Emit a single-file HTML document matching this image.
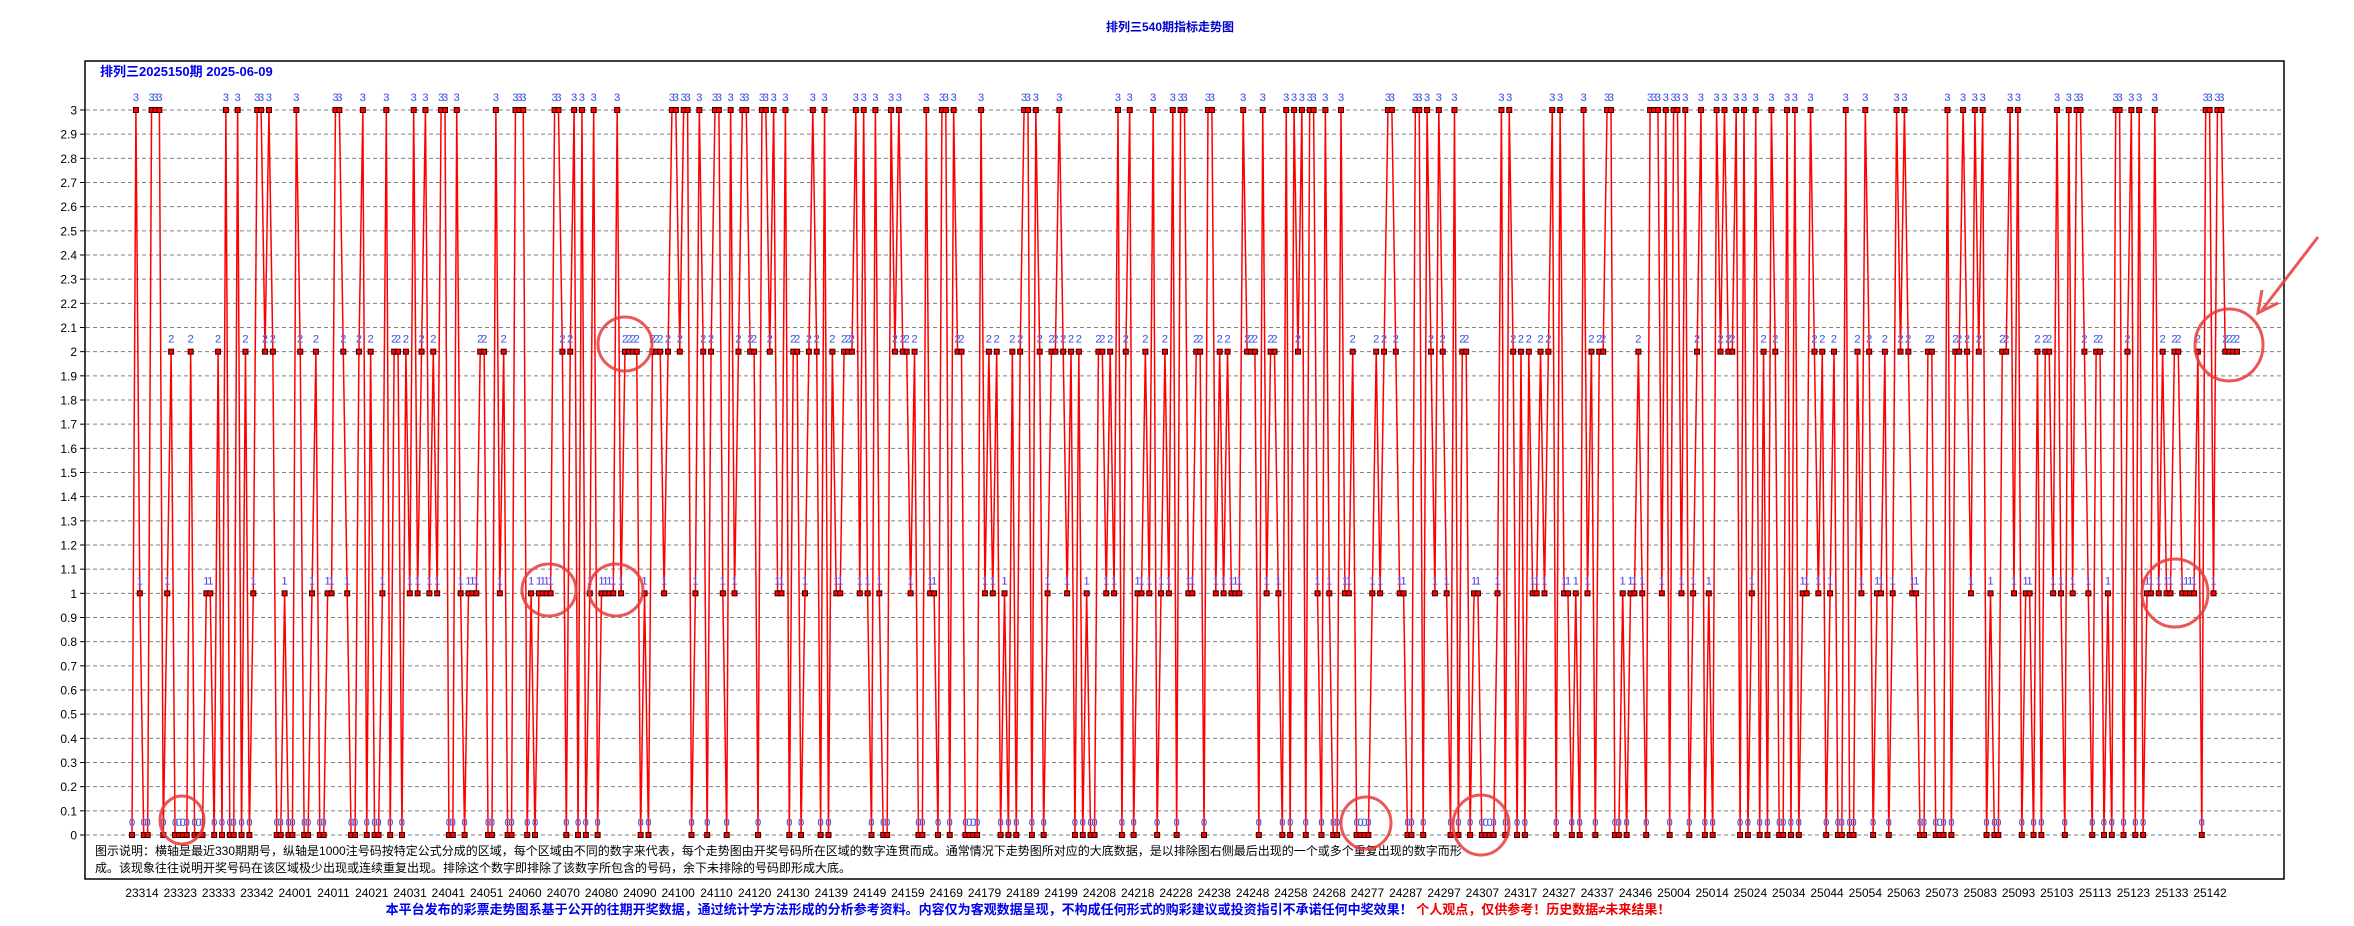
<!DOCTYPE html>
<html><head><meta charset="utf-8">
<style>
html,body{margin:0;padding:0;background:#fff;}
body{width:2354px;height:926px;overflow:hidden;position:relative;font-family:"Liberation Sans","Noto Sans CJK SC",sans-serif;}
svg{position:absolute;left:0;top:0;}
</style></head>
<body>
<svg id="chart" width="2354" height="926" viewBox="0 0 2354 926">
  <text x="1170" y="31" text-anchor="middle" font-size="12" font-weight="bold" fill="#0000cc" font-family="Liberation Sans, Noto Sans CJK SC, sans-serif">排列三540期指标走势图</text>
  <rect x="85" y="61" width="2199" height="818" fill="none" stroke="#000" stroke-width="1.5"/>
  <g id="grid"></g>
  <g id="ylabels"></g>
  <g id="series"></g>
  <g id="xlabels"></g>
  <text x="100" y="76" font-size="13" font-weight="bold" fill="#0000ee" font-family="Liberation Sans, Noto Sans CJK SC, sans-serif">排列三2025150期  2025-06-09</text>
  <g font-size="12" fill="#000" font-family="Liberation Sans, Noto Sans CJK SC, sans-serif">
    <text x="95" y="855">图示说明：横轴是最近330期期号，纵轴是1000注号码按特定公式分成的区域，每个区域由不同的数字来代表，每个走势图由开奖号码所在区域的数字连贯而成。通常情况下走势图所对应的大底数据，是以排除图右侧最后出现的一个或多个重复出现的数字而形</text>
    <text x="95" y="872">成。该现象往往说明开奖号码在该区域极少出现或连续重复出现。排除这个数字即排除了该数字所包含的号码，余下未排除的号码即形成大底。</text>
  </g>
  <text x="1028" y="914" text-anchor="middle" font-size="13" font-weight="bold" font-family="Liberation Sans, Noto Sans CJK SC, sans-serif"><tspan fill="#0000ee">本平台发布的彩票走势图系基于公开的往期开奖数据，通过统计学方法形成的分析参考资料。内容仅为客观数据呈现，不构成任何形式的购彩建议或投资指引不承诺任何中奖效果！</tspan><tspan fill="#ee0000"> 个人观点，仅供参考！历史数据≠未来结果！</tspan></text>
  <g fill="none" stroke="#e83a3a" stroke-width="3" opacity="0.85">
    <ellipse cx="182" cy="820" rx="22" ry="24"/>
    <ellipse cx="549" cy="590" rx="27" ry="26"/>
    <ellipse cx="625" cy="344" rx="27" ry="27"/>
    <ellipse cx="616" cy="590" rx="27" ry="26"/>
    <ellipse cx="1366" cy="823" rx="25" ry="26"/>
    <ellipse cx="1481" cy="825" rx="28" ry="30"/>
    <ellipse cx="2175" cy="593" rx="33" ry="34"/>
    <ellipse cx="2229" cy="345" rx="34" ry="36"/>
    <line x1="2318" y1="237" x2="2262" y2="310"/>
    <polyline points="2262,290 2258,313 2278,303"/>
  </g>
</svg>
<script>
const values = [0,3,1,0,0,3,3,3,0,1, 2,0,0,0,0,2,0,0,0,1, 1,0,2,0,3,0,0,3,0,2, 0,1,3,3,2,3,2,0,0,1, 0,0,3,2,0,0,1,2,0,0, 1,1,3,3,2,1,0,0,2,3, 0,2,0,0,1,3,0,2,2,0,
2,1,3,1,2,3,1,2,1,3, 3,0,0,3,1,0,1,1,1,2, 2,0,0,3,1,2,0,0,3,3, 3,0,1,0,1,1,1,1,3,3, 2,0,2,3,0,3,0,1,3,0, 1,1,1,1,3,1,2,2,2,2, 0,1,0,2,2,2,1,2,3,3, 2,3,3,0,1,3,2,0,
2,3,3,1,0,3,1,2,3,3, 2,2,0,3,3,2,3,1,1,3, 0,2,2,0,1,2,3,2,0,3, 0,2,1,1,2,2,2,3,1,3, 1,0,3,1,0,0,3,2,3,2, 2,1,2,0,0,3,1,1,0,3, 3,0,3,2,2,0,0,0,0,3, 1,2,1,2,0,1,0,2,0,2,
3,3,0,3,2,0,1,2,2,3, 2,1,2,0,2,0,1,0,0,2, 2,1,2,1,3,0,2,3,0,1, 1,2,1,3,0,1,2,1,3,0, 3,3,1,1,2,2,0,3,3,1, 2,1,2,1,1,1,3,2,2,2, 0,3,1,2,2,1,0,3,0,3, 2,3,0,3,3,1,0,3,1,
0,0,3,1,1,2,0,0,0,0, 1,2,1,2,3,3,2,1,1,0, 0,3,3,0,3,2,1,3,2,1, 0,3,0,2,2,0,1,1,0,0, 0,0,1,3,0,3,2,0,2,0, 2,1,1,2,1,2,3,0,3,1, 1,0,1,0,3,1,2,0,2,2, 3,3,0,0,1,0,1,1,2,
1,0,3,3,3,1,3,0,3,3, 1,3,0,1,2,3,0,1,0,3, 2,3,2,2,3,0,3,0,1,3, 0,2,0,3,2,0,0,3,0,3, 0,1,1,3,2,1,2,0,1,2, 0,0,3,0,0,2,1,3,2,0, 1,1,2,0,1,3,2,3,2,1, 1,0,0,2,2,0,0,0,3,
0,2,2,3,2,1,3,2,3,0, 1,0,0,2,2,3,1,3,0,1, 1,0,2,0,2,2,1,3,1,0, 3,1,3,3,2,1,0,2,2,0, 1,0,3,3,0,2,3,0,3,0, 1,1,3,1,2,1,1,2,2,1, 1,1,1,2,0,3,3,1,3,3, 2,2,2,2];
const yTicks = ["0","0.1","0.2","0.3","0.4","0.5","0.6","0.7","0.8","0.9","1","1.1","1.2","1.3","1.4","1.5","1.6","1.7","1.8","1.9","2","2.1","2.2","2.3","2.4","2.5","2.6","2.7","2.8","2.9","3"];
const xTickLabels = ["23314","23323","23333","23342","24001","24011","24021","24031","24041","24051","24060","24070","24080","24090","24100","24110","24120","24130","24139","24149","24159","24169","24179","24189","24199","24208","24218","24228","24238","24248","24258","24268","24277","24287","24297","24307","24317","24327","24337","24346","25004","25014","25024","25034","25044","25054","25063","25073","25083","25093","25103","25113","25123","25133","25142"];

const NS = "http://www.w3.org/2000/svg";
const X0 = 132, X1 = 2237, Y0 = 835, Y3 = 110;
function xScale(i){ return X0 + i * (X1 - X0) / (values.length - 1); }
function yScale(v){ return Y0 - v * (Y0 - Y3) / 3; }
function mk(tag, attrs, parent){ const e = document.createElementNS(NS, tag); for (const k in attrs) e.setAttribute(k, attrs[k]); parent.appendChild(e); return e; }

const grid = document.getElementById('grid');
const yl = document.getElementById('ylabels');
yTicks.forEach((t, k) => {
  const v = parseFloat(t);
  const y = yScale(v);
  const ln = mk('line', {x1: 86, x2: 2283, y1: y, y2: y, stroke: '#808080', 'stroke-width': 1, 'stroke-dasharray': '4,3'}, grid);
  
  
  const tk = mk('line', {x1: 80, x2: 85, y1: y, y2: y, stroke: '#000', 'stroke-width': 1}, yl);
  
  
  const tx = mk('text', {x: 77, y: y + 4.5, 'text-anchor': 'end', 'font-size': 12, fill: '#000'}, yl);
  
  
  tx.textContent = t;
});

const xl = document.getElementById('xlabels');
const xStep = (2210 - 142) / (xTickLabels.length - 1);
xTickLabels.forEach((t, k) => {
  const tx = mk('text', {x: 142 + k * xStep, y: 897, 'text-anchor': 'middle', 'font-size': 12, fill: '#000'}, xl);
  
  
  tx.textContent = t;
});

const series = document.getElementById('series');
let d = '';
values.forEach((v, i) => { d += (i ? 'L' : 'M') + xScale(i).toFixed(2) + ',' + yScale(v).toFixed(2); });
const path = mk('path', {d: d, fill: 'none', stroke: '#ff0000', 'stroke-width': 1.5}, series);


values.forEach((v, i) => {
  const x = xScale(i), y = yScale(v);
  const r = mk('rect', {x: x - 2.5, y: y - 2.5, width: 5, height: 5, fill: '#ff0000', stroke: '#300', 'stroke-width': 1}, series);
  
  
  const t = mk('text', {x: x, y: y - 9, 'text-anchor': 'middle', 'font-size': 11, fill: v === 1 ? '#5500cc' : '#2222cc', stroke: '#99bbff', 'stroke-width': 0.3}, series);
  
  
  t.textContent = String(v);
});
</script>
</body></html>
